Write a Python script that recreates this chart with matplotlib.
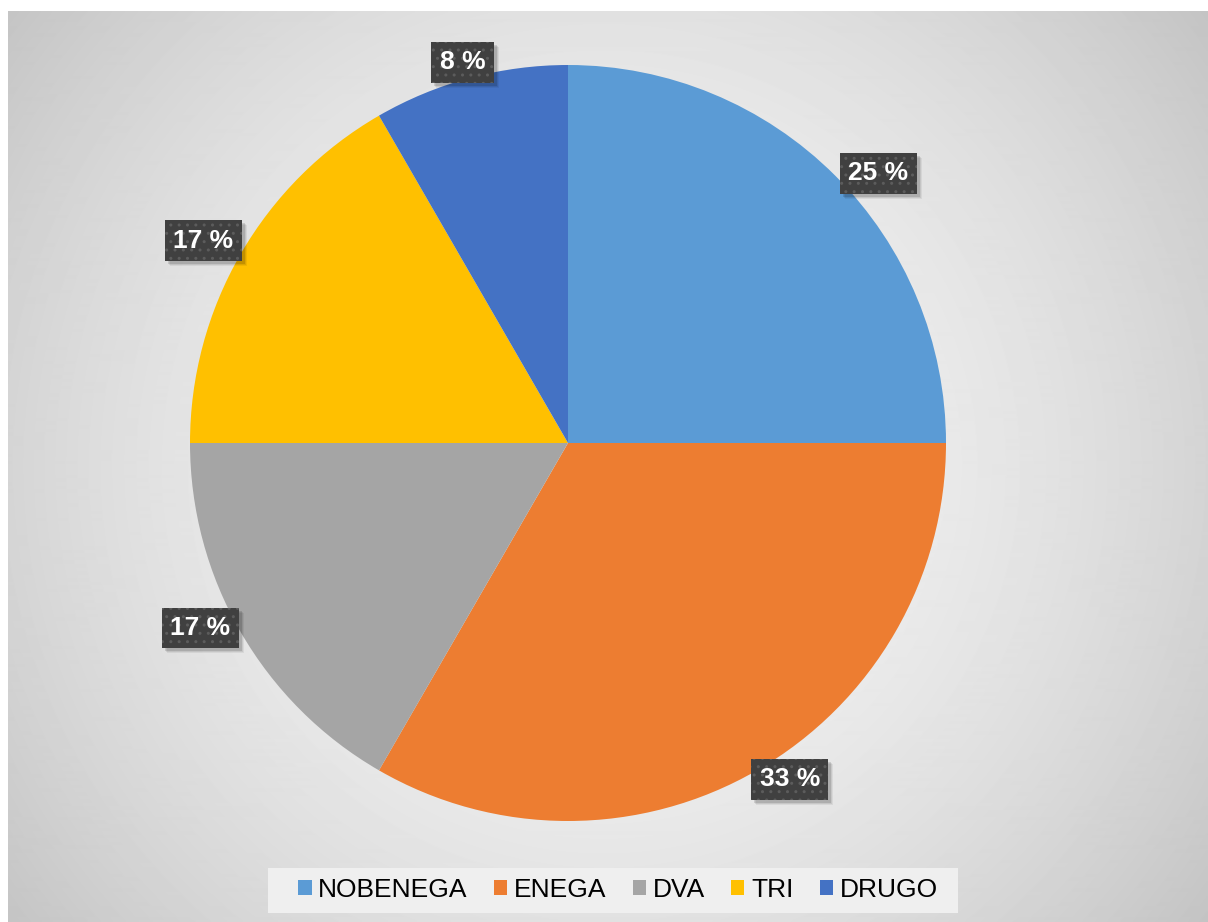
import numpy as np
import matplotlib.pyplot as plt
from matplotlib.patches import Rectangle
from matplotlib.transforms import IdentityTransform

plt.rcParams['font.family'] = ['Liberation Sans', 'DejaVu Sans']

categories = ['NOBENEGA', 'ENEGA', 'DVA', 'TRI', 'DRUGO']
counts = [3, 4, 2, 2, 1]
pct_labels = ['25 %', '33 %', '17 %', '17 %', '8 %']
colors = ['#5B9BD5', '#ED7D31', '#A5A5A5', '#FFC000', '#4472C4']
# label placement (radius factor, angle shift in degrees) per slice
label_dist = [1.087, 1.066, 1.089, 1.103, 1.045]
label_shift = [-4, 3.4, -3.3, 1, 0.5]

W, H = 1208, 922
fig = plt.figure(figsize=(W / 100, H / 100), dpi=100)
fig.patch.set_facecolor('white')

# radial grey gradient background
bg = fig.add_axes([8 / W, 0, (W - 8) / W, (H - 11) / H])
yy, xx = np.mgrid[0:911, 0:1200]
r = np.hypot(xx - 596, yy - 455) / 760
shade = np.clip(245 - 50 * r ** 1.8, 180, 255) / 255
bg.imshow(shade, cmap='gray', vmin=0, vmax=1, aspect='auto',
          interpolation='bilinear')
bg.axis('off')

# pie
cx, cy, rad = 568, 443, 378
ax = fig.add_axes([(cx - rad) / W, (H - cy - rad) / H, 2 * rad / W, 2 * rad / H])
wedges, _ = ax.pie(counts, colors=colors, startangle=90, counterclock=False,
                   radius=1, wedgeprops=dict(linewidth=0))
ax.set_xlim(-1, 1)
ax.set_ylim(-1, 1)
ax.axis('off')

labels = []
for w, lab, d, s in zip(wedges, pct_labels, label_dist, label_shift):
    mid = np.deg2rad((w.theta1 + w.theta2) / 2 + s)
    x, y = d * np.cos(mid), d * np.sin(mid)
    t = ax.text(x, y, lab, ha='center', va='center', fontsize=19,
                fontweight='bold', color='white', clip_on=False, zorder=10,
                bbox=dict(boxstyle='square,pad=0.32', facecolor='#404040',
                          edgecolor='#5c5c5c', linewidth=0, hatch='..'))
    labels.append(t)

# soft shadows behind the label boxes
fig.canvas.draw()
for t in labels:
    bb = t.get_bbox_patch().get_window_extent()
    for k, a in [(5, 0.06), (4, 0.08), (3, 0.12)]:
        ax.add_artist(Rectangle((bb.x0 + k, bb.y0 - k), bb.width, bb.height,
                                transform=IdentityTransform(), clip_on=False,
                                facecolor='black', edgecolor='none',
                                alpha=a, zorder=5))

# legend box
fig.patches.append(Rectangle((268 / W, 1 - 913 / H), 690 / W, 45 / H,
                             transform=fig.transFigure, facecolor='#efefef',
                             edgecolor='none', zorder=1))
leg = fig.legend(wedges, categories, loc='center', ncol=5,
                 bbox_to_anchor=(618 / W, 1 - 890 / H), fontsize=19,
                 frameon=False, handlelength=0.5,
                 handleheight=0.5, handletextpad=0.25, columnspacing=1.0)
leg.set_zorder(5)

fig.savefig('out.png', dpi=100)
